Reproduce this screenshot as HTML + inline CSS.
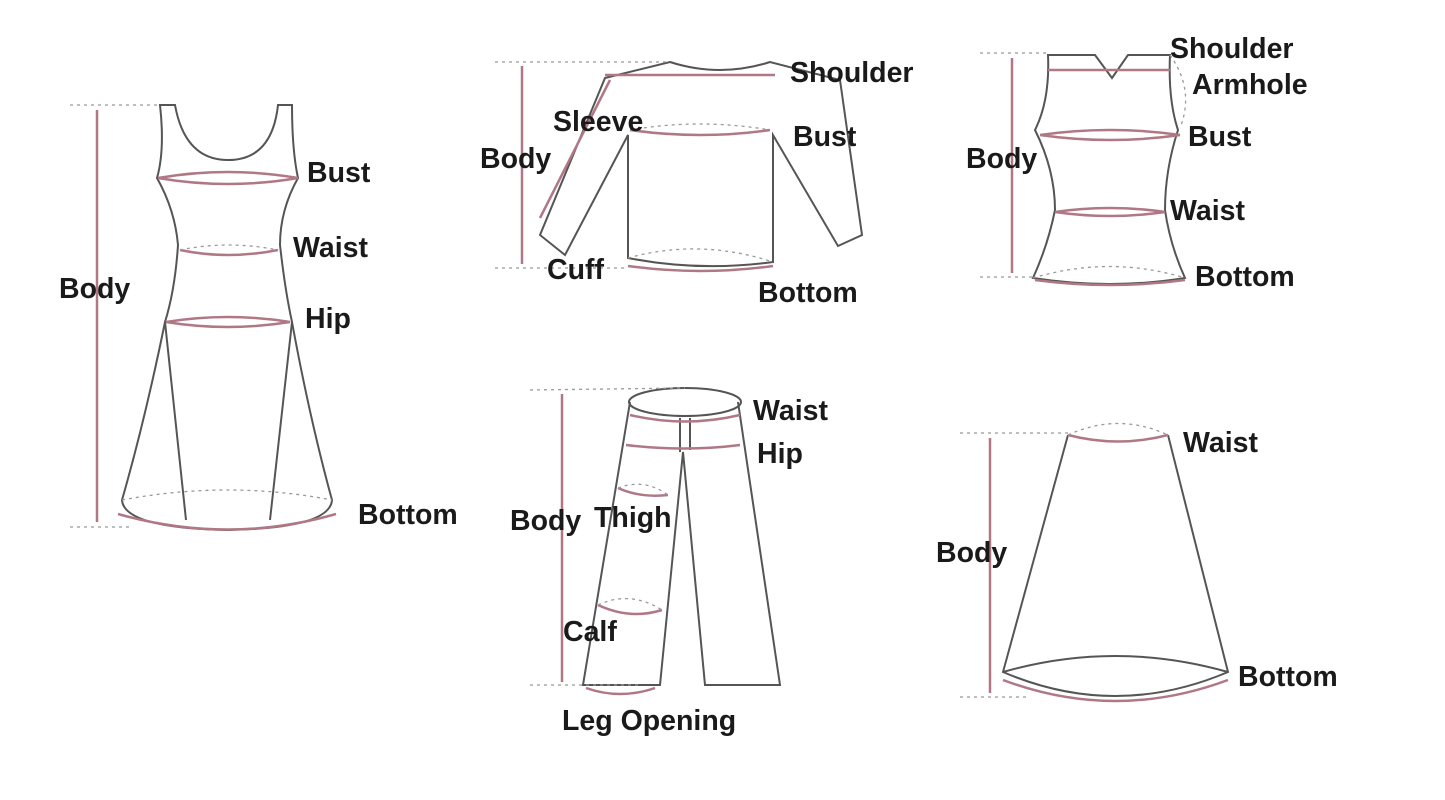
<!DOCTYPE html>
<html><head><meta charset="utf-8"><style>
html,body{margin:0;padding:0;background:#fff}
svg{display:block}
text{font-family:"Liberation Sans",sans-serif;font-size:28.5px;fill:#1a1a1a;font-weight:bold}
.o{fill:none;stroke:#555;stroke-width:2}
.m{fill:none;stroke:#b07884;stroke-width:2.5}
.d{fill:none;stroke:#999;stroke-width:1.3;stroke-dasharray:3 4}
</style></head><body>
<svg width="1445" height="800" viewBox="0 0 1445 800">
<rect width="1445" height="800" fill="#fff"/>
<!-- Dress -->
<g>
<path class="o" d="M160 105 L175 105 Q185 160 228 160 Q272 160 278 105 L292 105 Q292 150 298 178 Q280 210 280 245 Q285 290 292 322 Q310 420 332 500 Q330 528 228 530 Q124 528 122 500 Q145 420 165 322 Q175 290 178 245 Q175 210 157 178 Q165 150 160 105 Z"/>
<path class="o" d="M165 322 L186 520 M292 322 L270 520"/>
<path class="d" d="M122 500 Q228 480 332 500"/>
<path class="m" d="M158 178 Q228 190 298 178 M158 178 Q228 166 298 178"/>
<path class="m" d="M180 250 Q228 260 278 250"/>
<path class="d" d="M180 250 Q228 240 278 250"/>
<path class="m" d="M166 322 Q228 332 290 322 M166 322 Q228 312 290 322"/>
<path class="m" d="M118 514 Q228 545 336 514"/>
<path class="d" d="M70 105 L160 105 M70 527 L130 527"/>
<path class="m" d="M97 110 L97 522"/>
<text x="307" y="182">Bust</text><text x="293" y="257">Waist</text><text x="305" y="328">Hip</text>
<text x="59" y="298">Body</text><text x="358" y="524">Bottom</text>
</g>
<!-- Sweater -->
<g>
<path class="o" d="M670 62 Q720 78 770 62 L840 80 L862 235 L838 246 L773 135 L773 262 Q700 272 628 258 L628 135 L565 255 L540 235 L605 78 Z"/>
<path class="d" d="M628 258 Q700 238 773 262"/>
<path class="m" d="M605 75 L775 75"/>
<path class="m" d="M630 130 Q700 140 770 130"/>
<path class="d" d="M630 130 Q700 118 770 130"/>
<path class="m" d="M628 266 Q700 276 773 266"/>
<path class="m" d="M540 218 L610 80"/>
<path class="d" d="M495 62 L670 62 M495 268 L628 268"/>
<path class="m" d="M522 66 L522 264"/>
<text x="790" y="82">Shoulder</text><text x="553" y="131">Sleeve</text><text x="480" y="168">Body</text>
<text x="793" y="146">Bust</text><text x="547" y="279">Cuff</text><text x="758" y="302">Bottom</text>
</g>
<!-- Vest -->
<g>
<path class="o" d="M1048 55 L1095 55 L1112 78 L1128 55 L1170 55 Q1168 100 1178 130 Q1165 170 1165 210 Q1170 245 1185 278 Q1110 290 1033 278 Q1048 245 1055 210 Q1055 170 1035 130 Q1050 100 1048 55 Z"/>
<path class="d" d="M1033 278 Q1110 255 1185 278"/>
<path class="d" d="M1170 55 Q1195 90 1180 128"/>
<path class="m" d="M1048 70 L1170 70"/>
<path class="m" d="M1040 135 Q1110 145 1180 135 M1040 135 Q1110 125 1180 135"/>
<path class="m" d="M1055 212 Q1110 220 1165 212 M1055 212 Q1110 204 1165 212"/>
<path class="m" d="M1035 280 Q1110 290 1185 280"/>
<path class="d" d="M980 53 L1048 53 M980 277 L1035 277"/>
<path class="m" d="M1012 58 L1012 273"/>
<text x="1170" y="58">Shoulder</text><text x="1192" y="94">Armhole</text><text x="1188" y="146">Bust</text>
<text x="966" y="168">Body</text><text x="1170" y="220">Waist</text><text x="1195" y="286">Bottom</text>
</g>
<!-- Pants -->
<g>
<ellipse class="o" cx="685" cy="402" rx="56" ry="14"/>
<path class="o" d="M630 402 L583 685 L660 685 L683 452 L705 685 L780 685 L738 402"/>
<path class="o" d="M680 418 L680 452 M690 418 L690 450"/>
<path class="m" d="M630 415 Q685 428 740 415"/>
<path class="m" d="M626 445 Q685 452 740 445"/>
<path class="m" d="M618 488 Q640 498 668 495"/>
<path class="d" d="M618 488 Q645 478 668 495"/>
<path class="m" d="M598 605 Q630 620 662 610"/>
<path class="d" d="M598 605 Q630 590 662 610"/>
<path class="m" d="M586 688 Q620 700 655 688"/>
<path class="d" d="M530 390 L685 388 M530 685 L640 685"/>
<path class="m" d="M562 394 L562 682"/>
<text x="753" y="420">Waist</text><text x="757" y="463">Hip</text><text x="510" y="530">Body</text>
<text x="594" y="527">Thigh</text><text x="563" y="641">Calf</text><text x="562" y="730">Leg Opening</text>
</g>
<!-- Skirt -->
<g>
<path class="o" d="M1068 435 L1003 672 Q1115 720 1228 672 L1168 435"/>
<path class="m" d="M1068 435 Q1118 448 1168 435"/>
<path class="d" d="M1068 435 Q1118 412 1168 435"/>
<path class="o" d="M1003 672 Q1115 640 1228 672"/>
<path class="m" d="M1003 680 Q1115 722 1228 680"/>
<path class="d" d="M960 433 L1068 433 M960 697 L1030 697"/>
<path class="m" d="M990 438 L990 693"/>
<text x="1183" y="452">Waist</text><text x="936" y="562">Body</text><text x="1238" y="686">Bottom</text>
</g>
</svg>
</body></html>
